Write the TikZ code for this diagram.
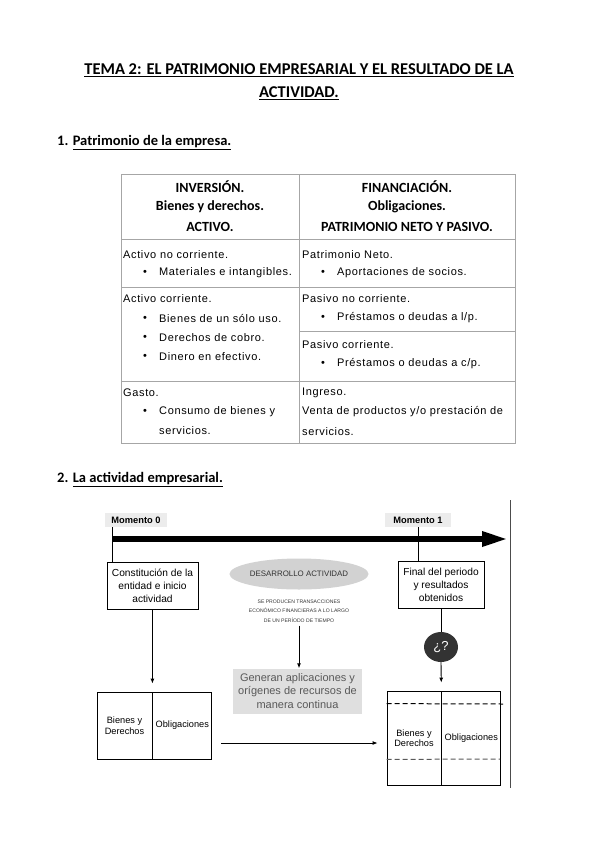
\documentclass[tikz,border=0pt]{standalone}
\usepackage{fontspec}
\setmainfont{Liberation Sans}
\newfontfamily\headfont{Carlito}
\newfontfamily\bodyfont[LetterSpace=5.8]{Liberation Sans}
\usetikzlibrary{arrows.meta,positioning,shapes.geometric}

\tikzset{
  head/.style={font=\headfont\bfseries\fontsize{16.5}{18}\selectfont},
  sect/.style={anchor=west, inner sep=0pt, font=\headfont\bfseries\fontsize{14.5}{16}\selectfont},
  colhead/.style={inner sep=0pt, font=\headfont\bfseries\fontsize{14}{16}\selectfont},
  cell/.style={anchor=west, inner sep=0pt, font=\bodyfont\fontsize{11}{13}\selectfont},
  grid/.style={draw=gray!70, line width=0.5pt},
  stepbox/.style={draw, line width=0.8pt, align=center, font=\fontsize{10.2}{13}\selectfont, inner sep=1pt},
  tag/.style={fill=gray!15, font=\bfseries\fontsize{9.3}{10}\selectfont, minimum height=14pt, inner sep=1pt},
  half/.style={draw, line width=0.8pt, align=center, minimum height=67pt, inner sep=0pt, font=\fontsize{9.2}{10.5}\selectfont},
  arr/.style={line width=0.9pt, -{Latex[length=5pt,width=4pt]}}
}

\begin{document}
\begin{tikzpicture}[x=1pt,y=-1pt]
  \useasboundingbox (0,0) rectangle (599,848);
  % Title
  \node[head] (title1) at (299,70) {\underline{TEMA 2: EL PATRIMONIO EMPRESARIAL Y EL RESULTADO DE LA}};
  \node[head] (title2) at (299,93) {\underline{ACTIVIDAD.}};
  % Section 1
  \node[sect] (sec1) at (57,143) {1. \underline{Patrimonio de la empresa.}};
  % Table grid
  \draw[grid] (121,174) rectangle (515,443);
  \draw[grid] (299,174) -- (299,443);
  \draw[grid] (121,239) -- (515,239);
  \draw[grid] (121,287) -- (515,287);
  \draw[grid] (121,381) -- (515,381);
  \draw[grid] (299,331) -- (515,331);
  % Column headers
  \node[colhead] (inv) at (210,187) {INVERSIÓN.};
  \node[colhead] (bd) at (210,207) {Bienes y derechos.};
  \node[colhead] (act) at (210,227) {ACTIVO.};
  \node[colhead] (fin) at (407,187) {FINANCIACIÓN.};
  \node[colhead] (obl) at (407,207) {Obligaciones.};
  \node[colhead] (pnp) at (407,227) {PATRIMONIO NETO Y PASIVO.};
  % Left column cells
  \node[cell] (anc) at (123,255) {Activo no corriente.};
  \node[cell] at (143,273) {\textbullet}; \node[cell] (anc1) at (159,273) {Materiales e intangibles.};
  \node[cell] (ac) at (123,299) {Activo corriente.};
  \node[cell] at (143,319) {\textbullet}; \node[cell] (ac1) at (159,319) {Bienes de un sólo uso.};
  \node[cell] at (143,338) {\textbullet}; \node[cell] (ac2) at (159,338) {Derechos de cobro.};
  \node[cell] at (143,357) {\textbullet}; \node[cell] (ac3) at (159,357) {Dinero en efectivo.};
  \node[cell] (gas) at (123,393) {Gasto.};
  \node[cell] at (143,412) {\textbullet}; \node[cell] (gas1) at (159,412) {Consumo de bienes y};
  \node[cell] (gas2) at (159,431) {servicios.};
  % Right column cells
  \node[cell] (pn) at (302,255) {Patrimonio Neto.};
  \node[cell] at (321,273) {\textbullet}; \node[cell] (pn1) at (337,273) {Aportaciones de socios.};
  \node[cell] (pnc) at (302,299) {Pasivo no corriente.};
  \node[cell] at (321,318) {\textbullet}; \node[cell] (pnc1) at (337,318) {Préstamos o deudas a l/p.};
  \node[cell] (pc) at (302,345) {Pasivo corriente.};
  \node[cell] at (321,364) {\textbullet}; \node[cell] (pc1) at (337,364) {Préstamos o deudas a c/p.};
  \node[cell] (ing) at (302,393) {Ingreso.};
  \node[cell] (ing1) at (302,412) {Venta de productos y/o prestación de};
  \node[cell] (ing2) at (302,432) {servicios.};
  % Section 2
  \node[sect] (sec2) at (57,480) {2. \underline{La actividad empresarial.}};
  % Time line
  \node[tag, minimum width=62pt] (m0) at (136,520) {Momento 0};
  \node[tag, minimum width=66pt] (m1) at (418,520) {Momento 1};
  \coordinate (t0) at (112,539);
  \coordinate (t1) at (508,539);
  \draw[line width=6pt, -{Triangle[length=26pt,width=14pt]}] (t0) -- (t1);
  \draw[line width=1pt, gray!60!black] (510,500) -- (510,788);
  % Start and end boxes
  \node[stepbox, minimum width=91pt, minimum height=47pt] (const) at (152.5,585.5) {Constitución de la\\entidad e inicio\\actividad};
  \node[stepbox, minimum width=86pt, minimum height=47pt] (final) at (441,584.5) {Final del periodo\\y resultados\\obtenidos};
  \draw[line width=0.8pt] ([xshift=-24pt]m0.south) -- ([xshift=-24pt]m0.south |- const.north);
  \draw[line width=0.8pt] (m1.south) -- (m1.south |- final.north);
  % Activity in the middle
  \node[ellipse, fill=gray!35, minimum width=116pt, minimum height=31pt, inner sep=0pt,
        font=\fontsize{7.9}{9}\selectfont, text=black!80] (des) at (299,574) {DESARROLLO ACTIVIDAD};
  \node[align=center, inner sep=0pt, font=\fontsize{5.1}{9.5}\selectfont, text=black!80] (trans) at (299,611)
        {SE PRODUCEN TRANSACCIONES\\ECONÓMICO FINANCIERAS A LO LARGO\\DE UN PERÍODO DE TIEMPO};
  \node[fill=gray!25, align=center, minimum width=129pt, minimum height=45pt, inner sep=1pt,
        font=\fontsize{11}{13.3}\selectfont, text=black!65] (gen) at (297.5,691)
        {Generan aplicaciones y\\orígenes de recursos de\\manera continua};
  \draw[arr] (trans.south) ++(0,3) -- (trans.south |- gen.north);
  % Initial balance
  \node[half, minimum width=55pt] (bd0) at (124.5,725.5) {Bienes y\\Derechos};
  \node[half, minimum width=59pt, right=0pt of bd0] (ob0) {Obligaciones};
  \draw[arr, shorten >=8pt] (const.south -| bd0.east) -- (bd0.north east);
  % Final balance
  \node[ellipse, fill=black!80, minimum width=34pt, minimum height=30pt, inner sep=0pt,
        text=white, font=\fontsize{13}{14}\selectfont] (q) at (441,647) {¿?};
  \node[half, minimum width=54pt, minimum height=94pt] (bd1) at (414,738) {Bienes y\\Derechos};
  \node[half, minimum width=59pt, minimum height=94pt, right=0pt of bd1] (ob1) {Obligaciones};
  \draw[line width=0.8pt] (final.south) -- (q.north);
  \draw[arr, shorten >=8pt] (q.south) -- (bd1.north east);
  \draw[line width=1pt, dash pattern=on 5pt off 3pt] (bd1.north west) ++(0,13) -- (503,704);
  \draw[line width=1pt, gray!70!black, dash pattern=on 5pt off 3pt] (bd1.south west) ++(0,-26) -- (500,759);
  % Transfer between balances
  \coordinate (flow) at (0,743);
  \draw[arr] ([xshift=9pt]ob0.east |- flow) -- ([xshift=-9pt]bd1.west |- flow);
\end{tikzpicture}
\end{document}
